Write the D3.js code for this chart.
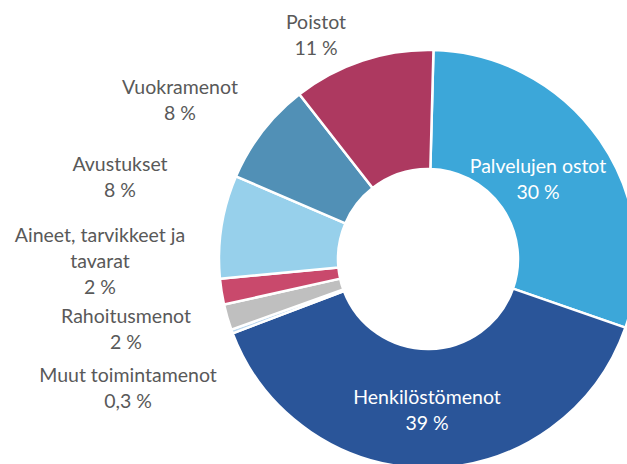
<!DOCTYPE html>
<html>
<head>
<meta charset="utf-8">
<script src="https://cdn.jsdelivr.net/npm/d3@7"></script>
<style>
  body { margin: 0; background: #fff; }
  svg text { font-family: Lato, "Open Sans", sans-serif; }
</style>
</head>
<body>
<svg id="chart" width="627" height="464"></svg>
<script>
// data, clockwise from 12 o'clock
var categories = ["Palvelujen ostot", "Henkilöstömenot", "Muut toimintamenot", "Rahoitusmenot",
                  "Aineet, tarvikkeet ja tavarat", "Avustukset", "Vuokramenot", "Poistot"];
var shares = [30, 39, 0.3, 2, 2, 8, 8, 11];
var shareLabels = ["30 %", "39 %", "0,3 %", "2 %", "2 %", "8 %", "8 %", "11 %"];

// label layout (lines of text, centre x, first baseline y, inside slice?)
var labelLines = [["Palvelujen ostot"], ["Henkilöstömenot"], ["Muut toimintamenot"], ["Rahoitusmenot"],
                  ["Aineet, tarvikkeet ja", "tavarat"], ["Avustukset"], ["Vuokramenot"], ["Poistot"]];
var labelPos = [[538, 173, true], [427, 404, true], [128, 382, false], [126, 323, false],
                [100, 242, false], [120, 171, false], [180, 94, false], [316, 29, false]];

var colors = ["#3ca7d9", "#2a5599", "#b9d6ee", "#bfbfbf", "#c9496c", "#97d0eb", "#5190b6", "#ad3960"];

var cx = 428, cy = 259, outerR = 209, innerR = 90;
var lineH = 26;
var rot = 1.5 * Math.PI / 180;

var rows = categories.map((c, i) => ({name: c, value: shares[i], label: shareLabels[i], c: colors[i], i: i}));

var svg = d3.select("#chart");
var g = svg.append("g").attr("transform", `translate(${cx},${cy})`);

var pie = d3.pie().sort(null).value(d => d.value)
  .startAngle(rot).endAngle(2 * Math.PI + rot);
var arc = d3.arc().innerRadius(innerR).outerRadius(outerR);

g.selectAll("path.slice")
  .data(pie(rows))
  .join("path")
    .attr("class", "slice")
    .attr("d", arc)
    .attr("fill", d => d.data.c)
    .attr("stroke", "#fff")
    .attr("stroke-width", 2.5)
    .attr("stroke-linejoin", "round");

// ###### labels
rows.forEach(function(r, i) {
  var pos = labelPos[i];
  var lines = labelLines[i].concat([r.label]);
  var t = svg.append("text")
    .attr("text-anchor", "middle")
    .attr("fill", pos[2] ? "#ffffff" : "#595959")
    .style("font-size", "19.5px");
  lines.forEach(function(l, k) {
    t.append("tspan")
      .attr("x", pos[0])
      .attr("y", pos[1] + k * lineH)
      .text(l);
  });
});
</script>
</body>
</html>
